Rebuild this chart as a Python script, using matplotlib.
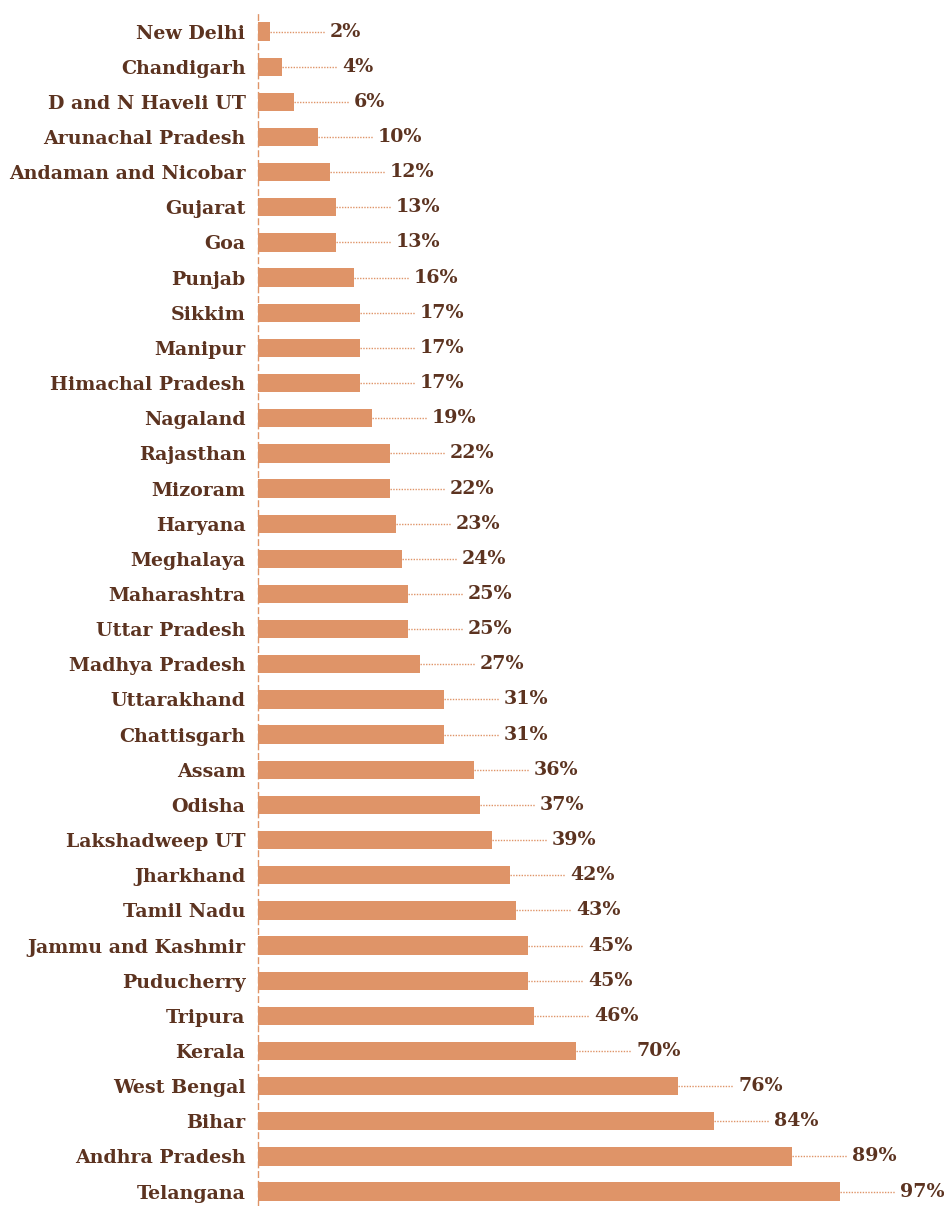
import matplotlib.pyplot as plt

# share per state, top to bottom as in the chart
states = ["New Delhi", "Chandigarh", "D and N Haveli UT", "Arunachal Pradesh",
          "Andaman and Nicobar", "Gujarat", "Goa", "Punjab", "Sikkim", "Manipur",
          "Himachal Pradesh", "Nagaland", "Rajasthan", "Mizoram", "Haryana",
          "Meghalaya", "Maharashtra", "Uttar Pradesh", "Madhya Pradesh",
          "Uttarakhand", "Chattisgarh", "Assam", "Odisha", "Lakshadweep UT",
          "Jharkhand", "Tamil Nadu", "Jammu and Kashmir", "Puducherry", "Tripura",
          "Kerala", "West Bengal", "Bihar", "Andhra Pradesh", "Telangana"]
values = [2, 4, 6, 10, 12, 13, 13, 16, 17, 17, 17, 19, 22, 22, 23, 24, 25, 25, 27,
          31, 31, 36, 37, 39, 42, 43, 45, 45, 46, 53, 70, 76, 89, 97]
value_labels = ["2%", "4%", "6%", "10%", "12%", "13%", "13%", "16%", "17%", "17%",
                "17%", "19%", "22%", "22%", "23%", "24%", "25%", "25%", "27%",
                "31%", "31%", "36%", "37%", "39%", "42%", "43%", "45%", "45%",
                "46%", "70%", "76%", "84%", "89%", "97%"]

BAR = "#df9468"
INK = "#5c3320"
FONT = "DejaVu Serif"

W, H = 944, 1206
fig = plt.figure(figsize=(W / 100, H / 100), dpi=100)
ax = fig.add_axes([258 / W, 0, (W - 258) / W, (H - 14) / H])

ypos = list(range(len(states)))
ax.barh(ypos, values, height=0.52, color=BAR)

gap = 10  # leader length, in % units
for y, v, lab in zip(ypos, values, value_labels):
    ax.plot([v, v + gap - 0.8], [y, y], color=BAR, lw=1, ls=(0, (1, 1)))
    ax.text(v + gap, y, lab, va="center", ha="left", color=INK,
            fontsize=13.7, fontweight="bold", family=FONT)

ax.set_xlim(0, (W - 258) / 6)
ax.set_ylim(len(states) - 1 + 14 / 34.15, -0.5)
ax.set_yticks(ypos)
ax.set_yticklabels(states, color=INK, fontsize=13.7, fontweight="bold", family=FONT)
ax.set_xticks([])
ax.tick_params(axis="y", length=0, pad=9)

for s in ["top", "right", "bottom"]:
    ax.spines[s].set_visible(False)
ax.spines["left"].set_color(BAR)
ax.spines["left"].set_linestyle((0, (4, 3)))
ax.spines["left"].set_linewidth(1)

fig.savefig("out.png", dpi=100)
